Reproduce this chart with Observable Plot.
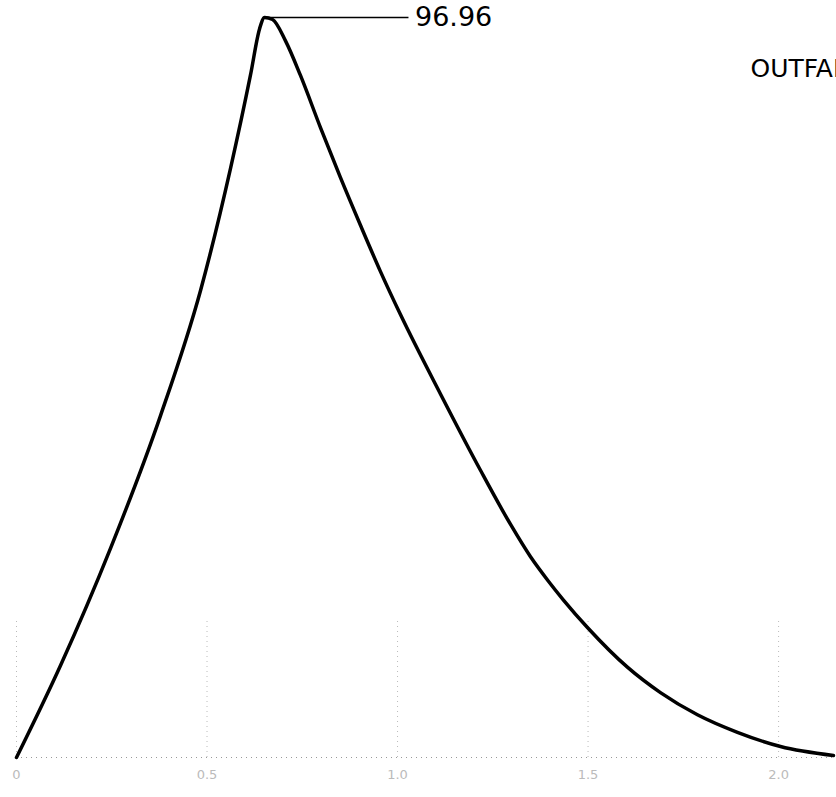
<!DOCTYPE html>
<html>
<head>
<meta charset="utf-8">
<script src="https://cdn.jsdelivr.net/npm/d3@7"></script>
<script src="https://cdn.jsdelivr.net/npm/@observablehq/plot@0.6"></script>
<style>
  html, body { margin: 0; padding: 0; background: #fff; }
  #chart { width: 836px; height: 797px; overflow: hidden; }
</style>
</head>
<body>
<div id="chart"></div>
<script>
// Outfall hydrograph (time in hours, discharge)
const time = [0, 0.1155, 0.2467, 0.378, 0.483, 0.5617, 0.614, 0.638, 0.651, 0.672, 0.706, 0.745, 0.798, 0.850, 0.903, 0.955, 1.008, 1.113, 1.218, 1.297, 1.349, 1.396, 1.436, 1.499, 1.604, 1.690, 1.787, 1.892, 2.005, 2.144];
const flow = [0, 12.05, 27.4, 44.8, 61.2, 77.2, 89.4, 95.5, 96.96, 96.7, 93.9, 89.4, 82.5, 76.0, 69.7, 63.7, 58.0, 47.6, 37.6, 30.5, 26.3, 23.1, 20.6, 17.0, 11.8, 8.5, 5.6, 3.3, 1.44, 0.26];
const xTicks = [0, 0.5, 1.0, 1.5, 2.0];
const peakValue = 96.96;
const peakTime = 0.651;
const labelEndTime = 1.03;
const titleText = "OUTFALL";

const data = time.map((t, i) => ({t, q: flow[i]}));

const chart = Plot.plot({
  width: 836,
  height: 797,
  marginLeft: 16,
  marginRight: 0,
  marginTop: 17,
  marginBottom: 40,
  style: {background: "#fff", fontFamily: "DejaVu Sans, sans-serif"},
  x: {domain: [0, 2.152], ticks: xTicks, tickSize: 0, tickPadding: 12, label: null, tickFormat: d => d === 0 ? "0" : d.toFixed(1)},
  y: {domain: [0, peakValue], axis: null},
  marks: [
    Plot.ruleY([0], {stroke: "#999", strokeDasharray: "1,4", strokeWidth: 1}),
    Plot.ruleX(xTicks, {y1: 0, y2: 18, stroke: "#bbb", strokeDasharray: "1,4"}),
    Plot.line(data, {x: "t", y: "q", curve: "monotone-x", stroke: "#000", strokeWidth: 3.5}),
    Plot.ruleY([peakValue], {x1: peakTime, x2: labelEndTime, stroke: "#000", strokeWidth: 1.5}),
    Plot.text([peakValue], {x: labelEndTime, y: d => d, text: d => d.toFixed(2), textAnchor: "start", dx: 6, fontSize: 27, fill: "#000", letterSpacing: "2px"}),
    Plot.text([titleText], {frameAnchor: "top-right", text: d => d, textAnchor: "start", dx: -86, dy: 42, fontSize: 25, fill: "#000", letterSpacing: "1px"})
  ]
});
const ax = chart.querySelector('g[aria-label="x-axis tick label"]');
if (ax) { ax.setAttribute("font-size", "13"); ax.setAttribute("fill", "#bbb"); }
document.getElementById("chart").appendChild(chart);
</script>
</body>
</html>
